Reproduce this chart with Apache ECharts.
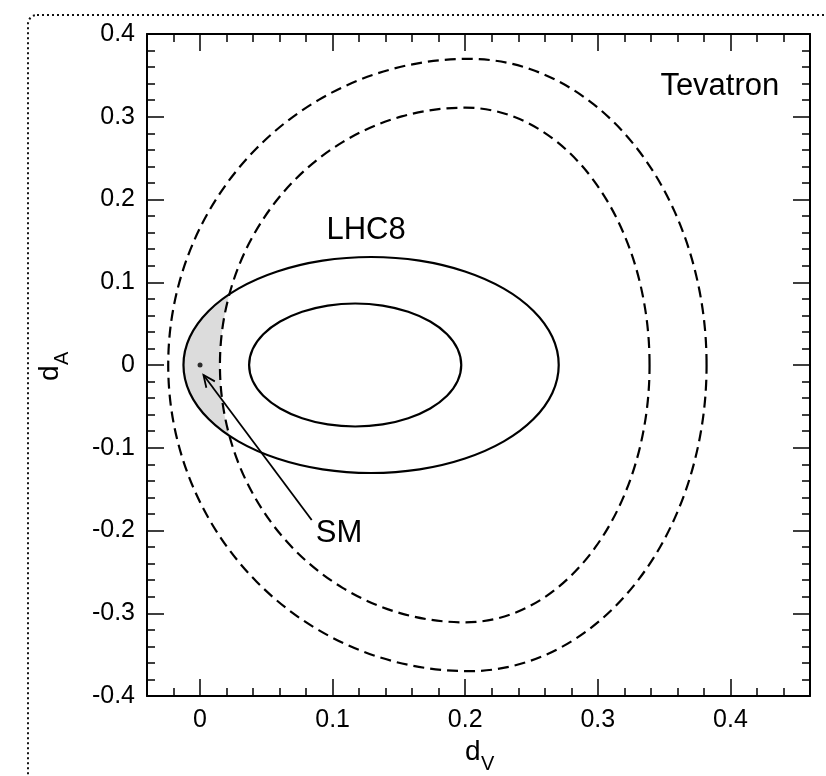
<!DOCTYPE html>
<html>
<head>
<meta charset="utf-8">
<script src="https://cdn.jsdelivr.net/npm/echarts@6/dist/echarts.min.js"></script>
<style>
  html, body { margin: 0; padding: 0; background: #fff; }
  #chart { width: 826px; height: 776px; }
</style>
</head>
<body>
<div id="chart"></div>
<script>
// Axis ranges: d_V (horizontal) and d_A (vertical)
const dvRange = [-0.04, 0.46];
const daRange = [-0.4, 0.4];
const daStep = 0.1;

// LHC8 allowed regions (solid contours), points as [d_V, d_A]
const lhcOuter = [
  [0.2705, 0], [0.2657, 0.0338], [0.2515, 0.0653], [0.2291, 0.0923], [0.1998, 0.1130], [0.1656, 0.1261],
  [0.1290, 0.1305], [0.0924, 0.1261], [0.0582, 0.1130], [0.0289, 0.0923], [0.0065, 0.0653], [-0.0077, 0.0338],
  [-0.0125, 0], [-0.0077, -0.0338], [0.0065, -0.0653], [0.0289, -0.0923], [0.0582, -0.1130], [0.0924, -0.1261],
  [0.1290, -0.1305], [0.1656, -0.1261], [0.1998, -0.1130], [0.2291, -0.0923], [0.2515, -0.0653], [0.2657, -0.0338]
];
const lhcInner = [
  [0.1970, 0], [0.1943, 0.0192], [0.1863, 0.0372], [0.1736, 0.0525], [0.1570, 0.0643], [0.1377, 0.0718],
  [0.1170, 0.0743], [0.0963, 0.0718], [0.0770, 0.0643], [0.0604, 0.0525], [0.0477, 0.0372], [0.0397, 0.0192],
  [0.0370, 0], [0.0397, -0.0192], [0.0477, -0.0372], [0.0604, -0.0525], [0.0770, -0.0643], [0.0963, -0.0718],
  [0.1170, -0.0743], [0.1377, -0.0718], [0.1570, -0.0643], [0.1736, -0.0525], [0.1863, -0.0372], [0.1943, -0.0192]
];

// Tevatron allowed band (dashed contours)
const tevOuter = [
  [0.3820, 0], [0.3759, 0.0958], [0.3580, 0.1850], [0.3296, 0.2616], [0.2925, 0.3204], [0.2493, 0.3574],
  [0.2030, 0.3700], [0.1442, 0.3574], [0.0895, 0.3204], [0.0425, 0.2616], [0.0064, 0.1850], [-0.0163, 0.0958],
  [-0.0240, 0], [-0.0163, -0.0958], [0.0064, -0.1850], [0.0425, -0.2616], [0.0895, -0.3204], [0.1442, -0.3574],
  [0.2030, -0.3700], [0.2493, -0.3574], [0.2925, -0.3204], [0.3296, -0.2616], [0.3580, -0.1850], [0.3759, -0.0958]
];
const tevInner = [
  [0.3390, 0], [0.3343, 0.0805], [0.3204, 0.1555], [0.2983, 0.2199], [0.2695, 0.2693], [0.2360, 0.3004],
  [0.2000, 0.3110], [0.1521, 0.3004], [0.1075, 0.2693], [0.0692, 0.2199], [0.0398, 0.1555], [0.0213, 0.0805],
  [0.0150, 0], [0.0213, -0.0805], [0.0398, -0.1555], [0.0692, -0.2199], [0.1075, -0.2693], [0.1521, -0.3004],
  [0.2000, -0.3110], [0.2360, -0.3004], [0.2695, -0.2693], [0.2983, -0.2199], [0.3204, -0.1555], [0.3343, -0.0805]
];

// Standard Model point and the arrow pointing at it (tail, head)
const smPoint = [[0, 0]];
const smArrow = [[0.0842, -0.1873], [0.0026, -0.0121]];

// Text labels: [text, d_V, d_A]
const plotLabels = [
  ['Tevatron', 0.392, 0.337],
  ['LHC8', 0.1252, 0.162],
  ['SM', 0.1048, -0.203]
];

const FONT = '"Liberation Sans", Arial, Helvetica, sans-serif';

const chart = echarts.init(document.getElementById('chart'), null, { renderer: 'canvas' });

// One closed, smoothed polygon per contour array
function contourSeries(points, style, z) {
  return {
    type: 'custom',
    coordinateSystem: 'cartesian2d',
    data: points,
    encode: { x: 0, y: 1 },
    z: z,
    silent: true,
    renderItem: function (params, api) {
      if (params.dataIndex !== 0) return null;
      return {
        type: 'polygon',
        shape: { points: points.map(function (p) { return api.coord(p); }), smooth: 0.34 },
        style: style
      };
    }
  };
}

const solid = { fill: 'none', stroke: '#000', lineWidth: 2.2 };
const dashed = { fill: 'none', stroke: '#000', lineWidth: 2.2, lineDash: [11, 6] };

function axisStyle(showLabel, position) {
  return {
    type: 'value',
    position: position,
    axisLine: { show: true, onZero: false, lineStyle: { color: '#000', width: 2 } },
    axisTick: { show: true, inside: true, length: 17, lineStyle: { color: '#000', width: 1.5 } },
    minorTick: { show: true, splitNumber: 5, length: 8, lineStyle: { color: '#000', width: 1.5 } },
    splitLine: { show: false },
    minorSplitLine: { show: false },
    axisLabel: {
      show: showLabel, margin: 12, fontSize: 25, color: '#000', fontFamily: FONT,
      showMinLabel: false, showMaxLabel: false
    }
  };
}

const xBottom = Object.assign(axisStyle(true, 'bottom'), { min: dvRange[0], max: dvRange[1], splitNumber: 5 });
const xTop = Object.assign(axisStyle(false, 'top'), { min: dvRange[0], max: dvRange[1], splitNumber: 5 });
const yLeft = Object.assign(axisStyle(true, 'left'), { min: daRange[0], max: daRange[1], interval: daStep });
yLeft.axisLabel.showMinLabel = true;
yLeft.axisLabel.showMaxLabel = true;
const yRight = Object.assign(axisStyle(false, 'right'), { min: daRange[0], max: daRange[1], interval: daStep });

function axisTitle(main, sub, x, y, rotation) {
  return {
    type: 'group', x: x, y: y, rotation: rotation, silent: true,
    children: [
      { type: 'text', x: -15, y: 0, style: { text: main, font: '28px ' + FONT, fill: '#000', align: 'left', verticalAlign: 'middle' } },
      { type: 'text', x: 1, y: 12, style: { text: sub, font: '20px ' + FONT, fill: '#000', align: 'left', verticalAlign: 'middle' } }
    ]
  };
}

chart.setOption({
  animation: false,
  backgroundColor: '#fff',
  grid: { left: 147, right: 16, top: 34, bottom: 80, containLabel: false },
  xAxis: [xBottom, xTop],
  yAxis: [yLeft, yRight],
  graphic: [
    {
      type: 'rect', silent: true, z: -10,
      shape: { x: 28, y: 15, width: 1000, height: 1000, r: 9 },
      style: { fill: null, stroke: '#111', lineWidth: 2, lineDash: [2, 3] }
    },
    axisTitle('d', 'V', 480, 752, 0),
    axisTitle('d', 'A', 50, 366, Math.PI / 2)
  ],
  series: [
    // Shaded region: inside LHC8 outer contour and outside the Tevatron inner contour
    contourSeries(lhcOuter, { fill: '#dcdcdc', stroke: null }, 1),
    contourSeries(tevInner, { fill: '#ffffff', stroke: null }, 2),
    contourSeries(tevOuter, dashed, 3),
    contourSeries(tevInner, dashed, 3),
    contourSeries(lhcOuter, solid, 3),
    contourSeries(lhcInner, solid, 3),
    {
      type: 'scatter', data: smPoint, symbol: 'circle', symbolSize: 5, z: 5, silent: true,
      itemStyle: { color: '#000' }
    },
    {
      type: 'custom', coordinateSystem: 'cartesian2d', data: smArrow, encode: { x: 0, y: 1 }, z: 5, silent: true,
      renderItem: function (params, api) {
        if (params.dataIndex !== 0) return null;
        const a = api.coord(smArrow[0]);
        const b = api.coord(smArrow[1]);
        const ang = Math.atan2(b[1] - a[1], b[0] - a[0]);
        const L = 13, spread = 0.42;
        const h1 = [b[0] - L * Math.cos(ang - spread), b[1] - L * Math.sin(ang - spread)];
        const h2 = [b[0] - L * Math.cos(ang + spread), b[1] - L * Math.sin(ang + spread)];
        const st = { stroke: '#000', lineWidth: 1.8, fill: 'none' };
        return {
          type: 'group',
          children: [
            { type: 'line', shape: { x1: a[0], y1: a[1], x2: b[0], y2: b[1] }, style: st },
            { type: 'polyline', shape: { points: [h1, b, h2] }, style: st }
          ]
        };
      }
    },
    {
      type: 'custom', coordinateSystem: 'cartesian2d', z: 6, silent: true,
      data: plotLabels.map(function (l) { return [l[1], l[2], l[0]]; }),
      encode: { x: 0, y: 1 },
      renderItem: function (params, api) {
        const lab = plotLabels[params.dataIndex];
        const p = api.coord([lab[1], lab[2]]);
        return {
          type: 'text', x: p[0], y: p[1],
          style: { text: lab[0], font: '31px ' + FONT, fill: '#000', align: 'center', verticalAlign: 'middle' }
        };
      }
    }
  ]
});
</script>
</body>
</html>
